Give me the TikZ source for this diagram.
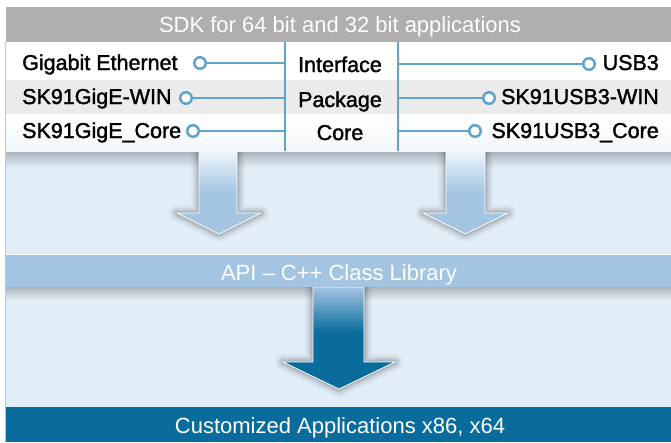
\documentclass[tikz,border=0pt]{standalone}
\usepackage{fontspec}
\setmainfont{Liberation Sans}
\newfontfamily\medfont[FakeBold=1.6]{Liberation Sans}
\definecolor{titlegray}{HTML}{AFAFAF}
\definecolor{rowgray}{HTML}{EBEBEB}
\definecolor{panelblue}{HTML}{E1EEF8}
\definecolor{apiblue}{HTML}{A3C5E2}
\definecolor{darkblue}{HTML}{0A6C9C}
\definecolor{lineblue}{HTML}{5FA4CA}
\definecolor{arrowtop}{HTML}{EEF5FB}
\definecolor{shadowgray}{HTML}{A9B3BC}
\definecolor{bordergray}{HTML}{C4C4C4}
\pgfdeclareverticalshading{arrowlight}{100bp}{color(0bp)=(apiblue); color(50bp)=(apiblue); color(75bp)=(arrowtop); color(100bp)=(arrowtop)}
\pgfdeclareverticalshading{arrowdark}{100bp}{color(0bp)=(darkblue); color(53bp)=(darkblue); color(75bp)=(apiblue); color(100bp)=(apiblue)}
\tikzset{
  lbl/.style={font=\medfont\fontsize{21.5}{26}\selectfont, inner sep=0pt, text=black},
  wlbl/.style={font=\fontsize{22}{26}\selectfont, inner sep=0pt, text=white},
  port/.style={circle, draw=lineblue, line width=2.5pt, fill=white, minimum size=11.5pt, inner sep=0pt},
  conn/.style={draw=lineblue, line width=2.5pt},
  glowline/.style={draw=black, line join=round},
}
\begin{document}
\begin{tikzpicture}[x=1pt,y=-1pt]
\useasboundingbox (0,0) rectangle (671,442);
\fill[white] (0,0) rectangle (671,442);
% lower panel
\fill[panelblue] (6,151) rectangle (671,407);
% shadow below rows
\shade[top color=shadowgray, bottom color=panelblue] (6,151) rectangle (671,168);
% shadow below API bar
\shade[top color=shadowgray, bottom color=panelblue] (6,287) rectangle (671,300);
% arrow glows
\foreach \w/\o in {16/0.04,11/0.06,7/0.08,3.5/0.10}{
  \draw[glowline, line width=\w pt, opacity=\o]
    (199,151) -- (199,213) -- (177,213) -- (219,234) -- (261,213) -- (237,213) -- (237,151);
  \draw[glowline, line width=\w pt, opacity=\o]
    (446,151) -- (446,213) -- (423,213) -- (465.5,234) -- (508,213) -- (485,213) -- (485,151);
  \draw[glowline, line width=\w pt, opacity=\o]
    (313,287) -- (313,362) -- (283,362) -- (339,389) -- (395,362) -- (364,362) -- (364,287);
}
% arrows
\path[shading=arrowlight, draw=white, line width=0.8pt]
  (199,151) -- (199,213) -- (177,213) -- (219,234) -- (261,213) -- (237,213) -- (237,151) -- cycle;
\path[shading=arrowlight, draw=white, line width=0.8pt]
  (446,151) -- (446,213) -- (423,213) -- (465.5,234) -- (508,213) -- (485,213) -- (485,151) -- cycle;
\path[shading=arrowdark, draw=white, line width=0.8pt]
  (313,287) -- (313,362) -- (283,362) -- (339,389) -- (395,362) -- (364,362) -- (364,287) -- cycle;
% API bar
\fill[apiblue] (6,254) rectangle (671,287);
\draw[white, line width=0.8pt] (6,254) -- (671,254);
\node[wlbl, anchor=base] (api) at (339,280) {API – C++ Class Library};
% bottom bar
\fill[darkblue] (6,407) rectangle (671,442);
\node[wlbl, anchor=base] (apps) at (340,433) {Customized Applications x86, x64};
% rows
\fill[white] (6,42) rectangle (671,80);
\fill[rowgray] (6,80) rectangle (671,114);
\shade[top color=white, bottom color=white!60!panelblue] (6,114) rectangle (671,151);
% title bar
\fill[titlegray] (6,7) rectangle (671,42);
\node[wlbl, anchor=base] (title) at (340,32) {SDK for 64 bit and 32 bit applications};
% left border
\draw[bordergray, line width=1.2pt] (5.4,42) -- (5.4,442);
% vertical lines
\coordinate (vLt) at (285,42);
\coordinate (vLb) at (285,151);
\coordinate (vRt) at (398,42);
\coordinate (vRb) at (398,151);
\draw[conn] (vLt) -- (vLb);
\draw[conn] (vRt) -- (vRb);
\coordinate (jL1) at (285,63);
\coordinate (jL2) at (285,98);
\coordinate (jL3) at (285,131);
\coordinate (jR1) at (398,64);
\coordinate (jR2) at (398,98);
\coordinate (jR3) at (398,131);
% middle labels
\node[lbl, anchor=base] (mid1) at (340,72) {Interface};
\node[lbl, anchor=base] (mid2) at (340,107) {Package};
\node[lbl, anchor=base] (mid3) at (340,140) {Core};
% left labels
\node[lbl, anchor=base west] (l1) at (22,70) {Gigabit Ethernet};
\node[lbl, anchor=base west] (l2) at (22,104) {SK91GigE-WIN};
\node[lbl, anchor=base west] (l3) at (22,138) {SK91GigE\_Core};
% right labels
\node[lbl, anchor=base east] (r1) at (659,70) {USB3};
\node[lbl, anchor=base east] (r2) at (659,104) {SK91USB3-WIN};
\node[lbl, anchor=base east] (r3) at (659,138) {SK91USB3\_Core};
% ports
\node[port] (pL1) at (200,63) {};
\node[port] (pL2) at (186,98) {};
\node[port] (pL3) at (193,131) {};
\node[port] (pR1) at (589,64) {};
\node[port] (pR2) at (489,98) {};
\node[port] (pR3) at (475,131) {};
\draw[conn] (pL1) -- (jL1);
\draw[conn] (pL2) -- (jL2);
\draw[conn] (pL3) -- (jL3);
\draw[conn] (pR1) -- (jR1);
\draw[conn] (pR2) -- (jR2);
\draw[conn] (pR3) -- (jR3);
\end{tikzpicture}
\end{document}
